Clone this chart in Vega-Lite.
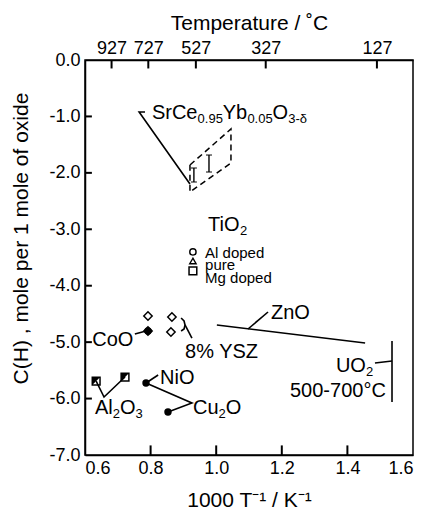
{
  "$schema": "https://vega.github.io/schema/vega-lite/v6.json",
  "width": 328,
  "height": 395,
  "autosize": {"type": "none"},
  "padding": {"left": 85, "top": 60, "right": 14, "bottom": 57},
  "background": "white",
  "config": {
    "view": {"stroke": "black", "strokeWidth": 1.5},
    "font": "Liberation Sans",
    "axis": {
      "grid": false,
      "domainColor": "black",
      "domainWidth": 1.5,
      "tickColor": "black",
      "tickWidth": 1.5,
      "labelColor": "black",
      "labelFont": "Liberation Sans",
      "labelFontSize": 18,
      "titleColor": "black",
      "titleFont": "Liberation Sans",
      "titleFontSize": 21,
      "titleFontWeight": "normal"
    }
  },
  "datasets": {
    "lines": [
      {"g": "SrCe", "o": 1, "x": 0.783, "y": -0.922},
      {"g": "SrCe", "o": 2, "x": 0.765, "y": -0.922},
      {"g": "SrCe", "o": 3, "x": 0.92, "y": -2.197},
      {"g": "CoO", "o": 1, "x": 0.752, "y": -4.856},
      {"g": "CoO", "o": 2, "x": 0.786, "y": -4.802},
      {"g": "YSZbracket", "o": 1, "x": 0.893, "y": -4.572},
      {"g": "YSZbracket", "o": 2, "x": 0.902, "y": -4.625},
      {"g": "YSZbracket", "o": 3, "x": 0.905, "y": -4.696},
      {"g": "YSZbracket", "o": 4, "x": 0.902, "y": -4.767},
      {"g": "YSZbracket", "o": 5, "x": 0.893, "y": -4.802},
      {"g": "YSZ", "o": 1, "x": 0.905, "y": -4.696},
      {"g": "YSZ", "o": 2, "x": 0.926, "y": -4.927},
      {"g": "ZnO", "o": 1, "x": 1.002, "y": -4.696},
      {"g": "ZnO", "o": 2, "x": 1.454, "y": -5.015},
      {"g": "ZnOlabel", "o": 1, "x": 1.097, "y": -4.767},
      {"g": "ZnOlabel", "o": 2, "x": 1.158, "y": -4.466},
      {"g": "UO2", "o": 1, "x": 1.536, "y": -4.98},
      {"g": "UO2", "o": 2, "x": 1.536, "y": -6.061},
      {"g": "UO2label", "o": 1, "x": 1.484, "y": -5.37},
      {"g": "UO2label", "o": 2, "x": 1.536, "y": -5.334},
      {"g": "Al2O3", "o": 1, "x": 0.634, "y": -5.689},
      {"g": "Al2O3", "o": 2, "x": 0.658, "y": -5.972},
      {"g": "Al2O3", "o": 3, "x": 0.722, "y": -5.618},
      {"g": "NiO", "o": 1, "x": 0.786, "y": -5.724},
      {"g": "NiO", "o": 2, "x": 0.823, "y": -5.582},
      {"g": "Cu2O", "o": 1, "x": 0.786, "y": -5.724},
      {"g": "Cu2O", "o": 2, "x": 0.926, "y": -6.078},
      {"g": "Cu2O", "o": 3, "x": 0.853, "y": -6.238}
    ],
    "region": [
      {"o": 1, "x": 0.92, "y": -1.861},
      {"o": 2, "x": 1.045, "y": -1.223},
      {"o": 3, "x": 1.045, "y": -1.825},
      {"o": 4, "x": 0.92, "y": -2.339},
      {"o": 5, "x": 0.92, "y": -1.861}
    ],
    "errors": [
      {"x": 0.932, "lo": -2.162, "hi": -1.914},
      {"x": 0.978, "lo": -1.985, "hi": -1.684}
    ],
    "points": [
      {"kind": "filled", "x": 0.792, "y": -4.802},
      {"kind": "diamond", "x": 0.792, "y": -4.802},
      {"kind": "diamond", "x": 0.792, "y": -4.537},
      {"kind": "diamond", "x": 0.865, "y": -4.554},
      {"kind": "diamond", "x": 0.862, "y": -4.82},
      {"kind": "circle", "x": 0.929, "y": -3.402},
      {"kind": "triangle", "x": 0.929, "y": -3.562},
      {"kind": "square", "x": 0.929, "y": -3.739},
      {"kind": "halfsquare", "x": 0.634, "y": -5.689},
      {"kind": "halfsquare", "x": 0.722, "y": -5.618},
      {"kind": "filled", "x": 0.786, "y": -5.724},
      {"kind": "filled", "x": 0.853, "y": -6.238}
    ],
    "labels": [
      {"x": 0.804, "y": -0.939, "t": "SrCe"},
      {"x": 1.02, "y": -0.939, "t": "Yb"},
      {"x": 1.172, "y": -0.939, "t": "O"},
      {"x": 0.975, "y": -2.924, "t": "TiO"},
      {"x": 0.622, "y": -4.962, "t": "CoO"},
      {"x": 0.905, "y": -5.175, "t": "8% YSZ"},
      {"x": 1.167, "y": -4.484, "t": "ZnO"},
      {"x": 1.365, "y": -5.42, "t": "UO"},
      {"x": 1.225, "y": -5.868, "t": "500-700°C"},
      {"x": 0.829, "y": -5.635, "t": "NiO"},
      {"x": 0.6305, "y": -6.167, "t": "Al"},
      {"x": 0.7067, "y": -6.167, "t": "O"},
      {"x": 0.9293, "y": -6.167, "t": "Cu"},
      {"x": 1.0293, "y": -6.167, "t": "O"}
    ],
    "subs": [
      {"x": 0.9433, "y": -0.939, "t": "0.95"},
      {"x": 1.0951, "y": -0.939, "t": "0.05"},
      {"x": 1.2198, "y": -0.939, "t": "3-δ"},
      {"x": 1.0726, "y": -2.924, "t": "2"},
      {"x": 1.4567, "y": -5.42, "t": "2"},
      {"x": 0.6848, "y": -6.167, "t": "2"},
      {"x": 0.7543, "y": -6.167, "t": "3"},
      {"x": 1.0073, "y": -6.167, "t": "2"}
    ],
    "keys": [
      {"x": 0.966, "y": -3.42, "t": "Al doped"},
      {"x": 0.966, "y": -3.633, "t": "pure"},
      {"x": 0.966, "y": -3.863, "t": "Mg doped"}
    ],
    "vticks": [
      {"x": 0.8, "lo": -7, "hi": -6.83},
      {"x": 1.0, "lo": -7, "hi": -6.83},
      {"x": 1.2, "lo": -7, "hi": -6.83},
      {"x": 1.4, "lo": -7, "hi": -6.83},
      {"x": 0.681, "lo": -0.15, "hi": 0},
      {"x": 0.793, "lo": -0.15, "hi": 0},
      {"x": 0.938, "lo": -0.15, "hi": 0},
      {"x": 1.151, "lo": -0.15, "hi": 0},
      {"x": 1.49, "lo": -0.15, "hi": 0}
    ],
    "hticks": [
      {"y": -6, "lo": 0.6, "hi": 0.621},
      {"y": -5, "lo": 0.6, "hi": 0.621},
      {"y": -4, "lo": 0.6, "hi": 0.621},
      {"y": -3, "lo": 0.6, "hi": 0.621},
      {"y": -2, "lo": 0.6, "hi": 0.621},
      {"y": -1, "lo": 0.6, "hi": 0.621}
    ]
  },
  "resolve": {"axis": {"x": "independent"}},
  "layer": [
    {
      "data": {"name": "lines"},
      "mark": {"type": "line", "color": "black", "strokeWidth": 1.6},
      "encoding": {
        "x": {
          "field": "x", "type": "quantitative",
          "scale": {"domain": [0.6, 1.6], "nice": false, "zero": false},
          "axis": {
            "orient": "bottom",
            "values": [0.6, 0.8, 1.0, 1.2, 1.4, 1.6],
            "format": ".1f",
            "ticks": false,
            "labelPadding": 4,
            "title": "1000 T⁻¹ / K⁻¹",
            "titlePadding": 12
          }
        },
        "y": {
          "field": "y", "type": "quantitative",
          "scale": {"domain": [-7, 0], "nice": false, "zero": false},
          "axis": {
            "values": [-7, -6, -5, -4, -3, -2, -1, 0],
            "labelExpr": "replace(format(datum.value, '.1f'), '−', '-')",
            "ticks": false,
            "labelPadding": 5,
            "title": "C(H) , mole per 1 mole of oxide",
            "titleX": -64,
            "titleY": 178,
            "titleAlign": "center",
            "titleBaseline": "middle",
            "titleAngle": 270
          }
        },
        "detail": {"field": "g"},
        "order": {"field": "o"}
      }
    },
    {
      "data": {"name": "vticks"},
      "mark": {"type": "rule", "color": "black", "strokeWidth": 2},
      "encoding": {
        "x": {"field": "x", "type": "quantitative", "axis": null},
        "y": {"field": "lo", "type": "quantitative"},
        "y2": {"field": "hi"}
      }
    },
    {
      "data": {"name": "hticks"},
      "mark": {"type": "rule", "color": "black", "strokeWidth": 2},
      "encoding": {
        "x": {"field": "lo", "type": "quantitative", "axis": null},
        "x2": {"field": "hi"},
        "y": {"field": "y", "type": "quantitative"}
      }
    },
    {
      "data": {"name": "region"},
      "mark": {"type": "line", "color": "black", "strokeWidth": 1.5, "strokeDash": [6, 4]},
      "encoding": {
        "x": {"field": "x", "type": "quantitative", "axis": null},
        "y": {"field": "y", "type": "quantitative"},
        "order": {"field": "o"}
      }
    },
    {
      "data": {"name": "errors"},
      "mark": {"type": "rule", "color": "black", "strokeWidth": 1.4},
      "encoding": {
        "x": {"field": "x", "type": "quantitative", "axis": null},
        "y": {"field": "lo", "type": "quantitative"},
        "y2": {"field": "hi"}
      }
    },
    {
      "data": {"name": "errors"},
      "mark": {"type": "tick", "orient": "horizontal", "color": "black", "size": 6, "thickness": 1.4},
      "encoding": {
        "x": {"field": "x", "type": "quantitative", "axis": null},
        "y": {"field": "lo", "type": "quantitative"}
      }
    },
    {
      "data": {"name": "errors"},
      "mark": {"type": "tick", "orient": "horizontal", "color": "black", "size": 6, "thickness": 1.4},
      "encoding": {
        "x": {"field": "x", "type": "quantitative", "axis": null},
        "y": {"field": "hi", "type": "quantitative"}
      }
    },
    {
      "data": {"name": "points"},
      "transform": [{"filter": "datum.kind === 'filled'"}],
      "mark": {"type": "point", "shape": "circle", "filled": true, "color": "black", "size": 55, "opacity": 1},
      "encoding": {
        "x": {"field": "x", "type": "quantitative", "axis": null},
        "y": {"field": "y", "type": "quantitative"}
      }
    },
    {
      "data": {"name": "points"},
      "transform": [{"filter": "datum.kind === 'diamond'"}],
      "mark": {"type": "point", "shape": "diamond", "filled": false, "color": "black", "strokeWidth": 1.5, "size": 70, "opacity": 1},
      "encoding": {
        "x": {"field": "x", "type": "quantitative", "axis": null},
        "y": {"field": "y", "type": "quantitative"}
      }
    },
    {
      "data": {"name": "points"},
      "transform": [{"filter": "datum.kind === 'circle'"}],
      "mark": {"type": "point", "shape": "circle", "filled": false, "color": "black", "strokeWidth": 1.4, "size": 40, "opacity": 1},
      "encoding": {
        "x": {"field": "x", "type": "quantitative", "axis": null},
        "y": {"field": "y", "type": "quantitative"}
      }
    },
    {
      "data": {"name": "points"},
      "transform": [{"filter": "datum.kind === 'triangle'"}],
      "mark": {"type": "point", "shape": "triangle-up", "filled": false, "color": "black", "strokeWidth": 1.4, "size": 40, "opacity": 1},
      "encoding": {
        "x": {"field": "x", "type": "quantitative", "axis": null},
        "y": {"field": "y", "type": "quantitative"}
      }
    },
    {
      "data": {"name": "points"},
      "transform": [{"filter": "datum.kind === 'square' || datum.kind === 'halfsquare'"}],
      "mark": {"type": "point", "shape": "square", "filled": false, "color": "black", "strokeWidth": 1.5, "size": 60, "opacity": 1},
      "encoding": {
        "x": {"field": "x", "type": "quantitative", "axis": null},
        "y": {"field": "y", "type": "quantitative"}
      }
    },
    {
      "data": {"name": "points"},
      "transform": [{"filter": "datum.kind === 'halfsquare'"}],
      "mark": {"type": "point", "shape": "M-1,-1L1,-1L-1,1Z", "filled": true, "color": "black", "size": 60, "opacity": 1},
      "encoding": {
        "x": {"field": "x", "type": "quantitative", "axis": null},
        "y": {"field": "y", "type": "quantitative"}
      }
    },
    {
      "data": {"name": "labels"},
      "mark": {"type": "text", "align": "left", "baseline": "middle", "fontSize": 20, "color": "black", "font": "Liberation Sans"},
      "encoding": {
        "x": {"field": "x", "type": "quantitative", "axis": null},
        "y": {"field": "y", "type": "quantitative"},
        "text": {"field": "t"}
      }
    },
    {
      "data": {"name": "keys"},
      "mark": {"type": "text", "align": "left", "baseline": "middle", "fontSize": 15, "color": "black", "font": "Liberation Sans"},
      "encoding": {
        "x": {"field": "x", "type": "quantitative", "axis": null},
        "y": {"field": "y", "type": "quantitative"},
        "text": {"field": "t"}
      }
    },
    {
      "data": {"name": "subs"},
      "mark": {"type": "text", "align": "left", "baseline": "middle", "fontSize": 13, "dy": 6, "color": "black", "font": "Liberation Sans"},
      "encoding": {
        "x": {
          "field": "x", "type": "quantitative",
          "axis": {
            "orient": "top",
            "values": [0.681, 0.793, 0.938, 1.151, 1.49],
            "labelExpr": "datum.value < 0.7 ? '927' : datum.value < 0.85 ? '727' : datum.value < 1 ? '527' : datum.value < 1.3 ? '327' : '127'",
            "ticks": false,
            "labelPadding": 3,
            "title": "Temperature / ˚C",
            "titlePadding": 6
          }
        },
        "y": {"field": "y", "type": "quantitative"},
        "text": {"field": "t"}
      }
    }
  ]
}
